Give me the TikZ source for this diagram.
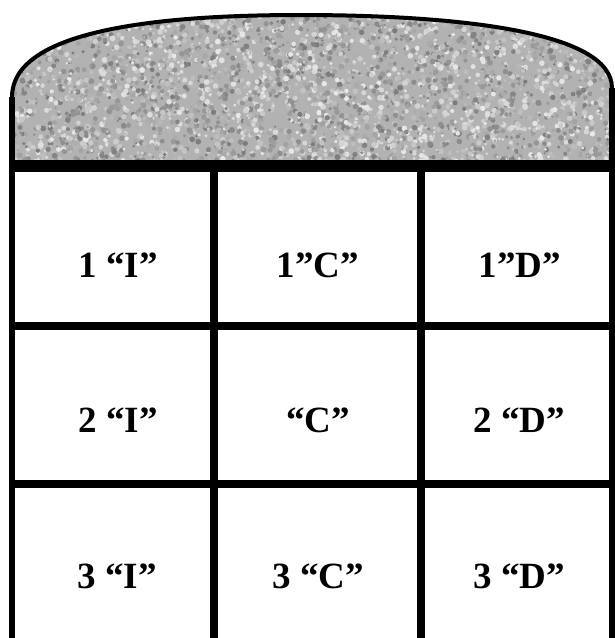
\documentclass[tikz,border=0pt]{standalone}
\usepackage{fontspec}
\setmainfont{Liberation Serif}
\usetikzlibrary{calc}

\begin{document}
\begin{tikzpicture}[x=1pt, y=-1pt,
		label/.style={font=\fontsize{37}{37}\selectfont\bfseries, anchor=base},
		wall/.style={line width=6pt},
		grid/.style={line width=8pt}]
		\useasboundingbox (0,0) rectangle (615,638);
		\coordinate (L) at (12, 97);
		\coordinate (T) at (300, 15);
		\coordinate (R) at (612, 88);
		\coordinate (BL) at (12, 166);
		\coordinate (BR) at (612, 166);
		
		% granite cap
		\begin{scope}
			\clip (L) .. controls (12, 32) and (150, 15) .. (T) .. controls (450, 15) and (612, 30) .. (R) -- (BR) -- (BL) -- cycle;
			\fill[black!30] (0, 0) rectangle (615, 170);
			\pgfmathsetseed{7}
			\foreach \i in {1,...,4600}{
				\pgfmathsetmacro{\gx}{rnd*615}
				\pgfmathsetmacro{\gy}{rnd*170}
				\pgfmathsetmacro{\gs}{8+rnd*44}
				\pgfmathsetmacro{\gr}{1.3+rnd*1.7}
				\fill[black!\gs] (\gx, \gy) circle (\gr pt);
			}
		\end{scope}
		\draw[line width=4pt] (L) .. controls (12, 32) and (150, 15) .. (T) .. controls (450, 15) and (612, 30) .. (R);
		
		% walls and grid
		\draw[wall] (L) -- (12, 638);
		\draw[wall] (R) -- (612, 638);
		\draw[line width=12pt] (9, 166) -- (615, 166);
		\draw[grid] (214, 166) -- (214, 638);
		\draw[grid] (421, 166) -- (421, 638);
		\draw[grid] (9, 326) -- (615, 326);
		\draw[grid] (9, 484) -- (615, 484);
		
		% cells
		\node[label] (i1) at (118, 277) {1 “I”};
		\node[label] (c1) at (318, 277) {1”C”};
		\node[label] (d1) at (520, 277) {1”D”};
		\node[label] (i2) at (118, 432) {2 “I”};
		\node[label] (c2) at (318, 432) {“C”};
		\node[label] (d2) at (519, 432) {2 “D”};
		\node[label] (i3) at (117, 588) {3 “I”};
		\node[label] (c3) at (318, 588) {3 “C”};
		\node[label] (d3) at (519, 588) {3 “D”};
	\end{tikzpicture}
\end{document}
